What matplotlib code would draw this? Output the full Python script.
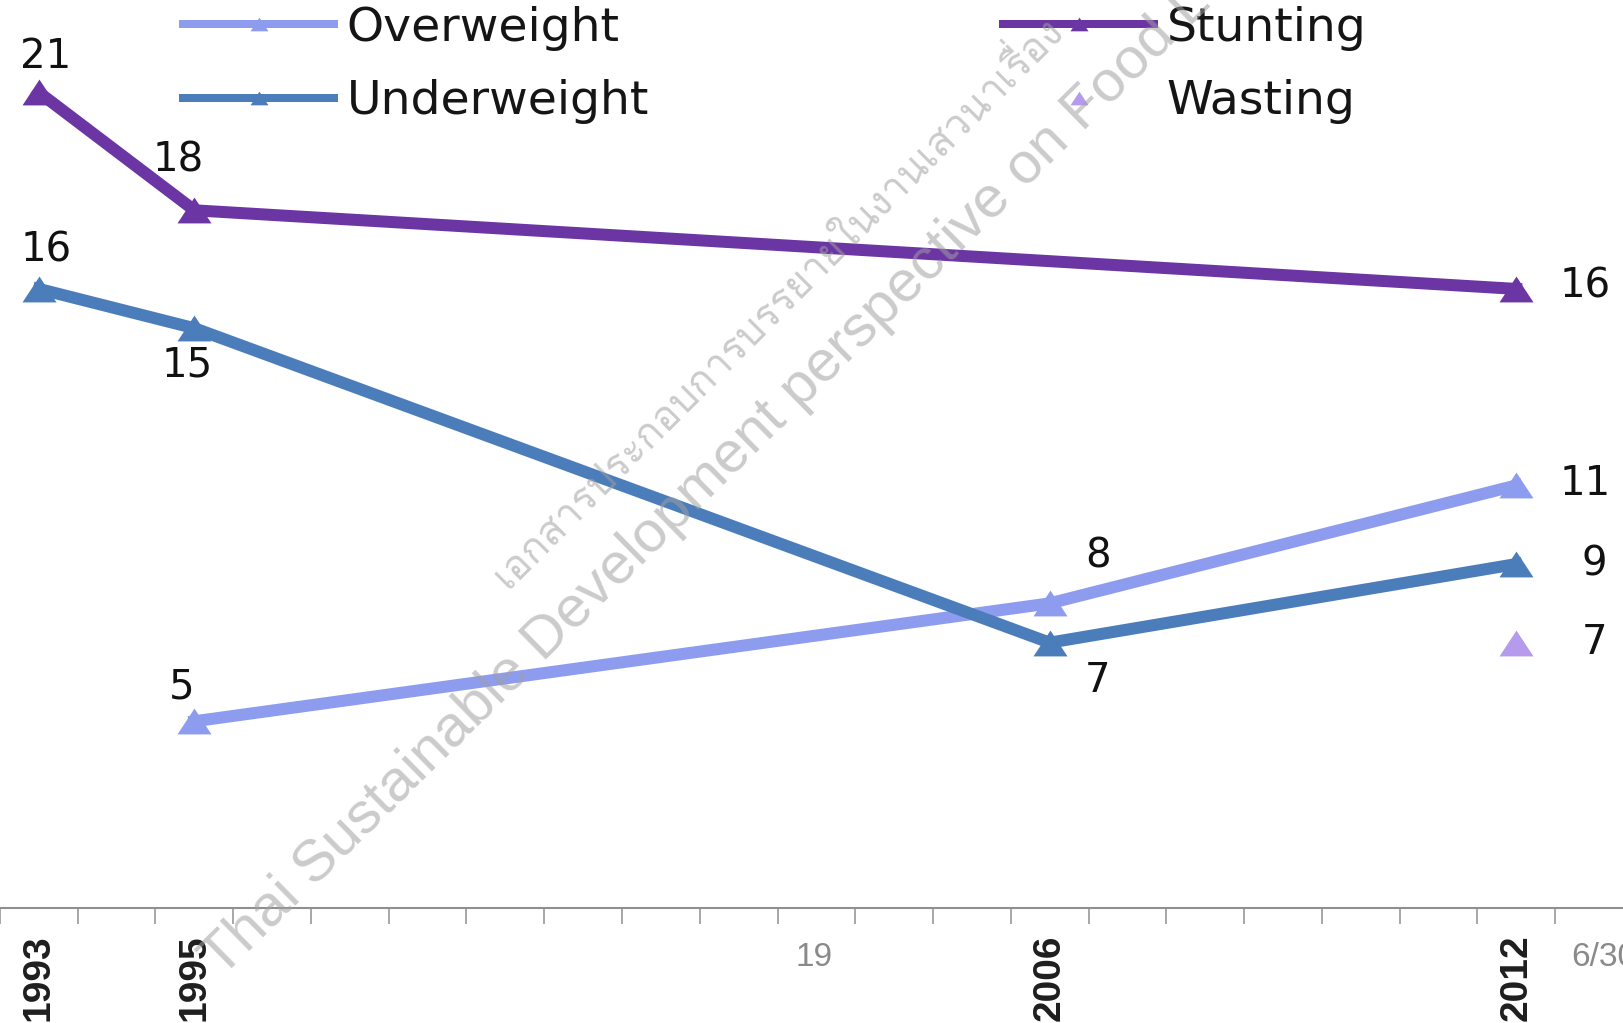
import matplotlib
matplotlib.use("Agg")
import matplotlib.pyplot as plt
from matplotlib.lines import Line2D
from matplotlib import font_manager
from matplotlib.ft2font import FT2Font

# ---- data -------------------------------------------------------------
years_stunting = [1993, 1995, 2012]
stunting = [21, 18, 16]

years_underweight = [1993, 1995, 2006, 2012]
underweight = [16, 15, 7, 9]

years_overweight = [1995, 2006, 2012]
overweight = [5, 8, 11]

years_wasting = [2012]
wasting = [7]

tick_years = [1993, 1995, 2006, 2012]
first_year, last_year = 1993, 2012

# ---- styling ----------------------------------------------------------
C_STUNT = "#6B35A3"
C_UNDER = "#4A7DBA"
C_OVER = "#8D9CEE"
C_WAST = "#B69BEC"

W, H, DPI = 1623, 1023, 100
fig = plt.figure(figsize=(W / DPI, H / DPI), dpi=DPI)
fig.patch.set_facecolor("white")

axis_y_px = 908          # pixel row of the category axis line
ax = fig.add_axes([0, 1 - axis_y_px / H, 1, axis_y_px / H])
ax.set_facecolor("none")

cat_px = 77.75           # width of one year on the category axis
ax.set_xlim(first_year - 0.5, first_year - 0.5 + W / cat_px)
ax.set_ylim(0.25, 23.35)

# wide, flat triangle marker
tri = [(-1, -0.76), (1, -0.76), (0, 0.76), (-1, -0.76)]
ms = 34 / (DPI / 72)
lw = 12 / (DPI / 72)

ax.plot(years_overweight, overweight, color=C_OVER, lw=lw, marker=tri,
        ms=ms, mew=0, solid_joinstyle="miter", zorder=3)
ax.plot(years_underweight, underweight, color=C_UNDER, lw=lw, marker=tri,
        ms=ms, mew=0, solid_joinstyle="miter", zorder=4)
ax.plot(years_stunting, stunting, color=C_STUNT, lw=lw, marker=tri,
        ms=ms, mew=0, solid_joinstyle="miter", zorder=5)
ax.plot(years_wasting, wasting, ls="none", color=C_WAST, marker=tri,
        ms=ms, mew=0, zorder=5)

# ---- value labels -----------------------------------------------------
label_font = dict(family="DejaVu Sans", fontsize=29, color="#111111")


def put_labels(xs, ys, offsets):
    for x, y, (dx, dy) in zip(xs, ys, offsets):
        ax.annotate(f"{y:g}", (x, y), xytext=(dx, dy),
                    textcoords="offset pixels", ha="center", va="center",
                    zorder=6, **label_font)


put_labels(years_stunting, stunting, [(7, 35), (-16, 50), (69, 2)])
put_labels(years_underweight, underweight,
           [(7, 38), (-7, -37), (48, -38), (78, 0)])
put_labels(years_overweight, overweight, [(-13, 34), (48, 47), (69, 1)])
put_labels(years_wasting, wasting, [(78, 0)])

# ---- category axis ----------------------------------------------------
for side in ("left", "right", "top"):
    ax.spines[side].set_visible(False)
ax.spines["bottom"].set_color("#8f8f8f")
ax.spines["bottom"].set_linewidth(1.5)

boundaries = [y - 0.5 for y in range(first_year, last_year + 2)]
ax.set_xticks(boundaries)
ax.set_xticklabels([])
ax.tick_params(axis="x", which="major", direction="out", length=11.5,
               width=1.1, color="#8f8f8f")
ax.set_xticks(tick_years, minor=True)
ax.set_xticklabels([str(y) for y in tick_years], minor=True, rotation=90,
                   family="Liberation Sans", fontweight="bold", fontsize=28,
                   color="#1e1e1e", va="top", ha="center")
ax.tick_params(axis="x", which="minor", length=0, pad=19)
ax.set_yticks([])

# ---- legend -----------------------------------------------------------
lg_ms = 18 / (DPI / 72)
lg_lw = 8 / (DPI / 72)
h_over = Line2D([], [], color=C_OVER, lw=lg_lw, marker=tri, ms=lg_ms, mew=0)
h_under = Line2D([], [], color=C_UNDER, lw=lg_lw, marker=tri, ms=lg_ms, mew=0)
h_stunt = Line2D([], [], color=C_STUNT, lw=lg_lw, marker=tri, ms=lg_ms, mew=0)
h_wast = Line2D([], [], color=C_WAST, ls="none", marker=tri, ms=lg_ms, mew=0)

legend_kw = dict(frameon=False, loc="upper left", borderpad=0,
                 borderaxespad=0, handlelength=3.2, handletextpad=0.27,
                 labelspacing=0.6, prop=dict(family="DejaVu Sans", size=34),
                 labelcolor="#151515", bbox_transform=fig.transFigure)
leg1 = fig.legend([h_over, h_under], ["Overweight", "Underweight"],
                  bbox_to_anchor=(183 / W, 1 - 6 / H), **legend_kw)
leg2 = fig.legend([h_stunt, h_wast], ["Stunting", "Wasting"],
                  bbox_to_anchor=(1003 / W, 1 - 6 / H), **legend_kw)

# ---- page footer texts ------------------------------------------------
footer = dict(family=["Liberation Sans Narrow", "Liberation Sans"],
              fontsize=24, color="#8a8a8a", va="center")
fig.text(814 / W, 1 - 958 / H, "19", ha="center", **footer)
fig.text(1571 / W, 1 - 958 / H, "6/30", ha="left", **footer)

# ---- watermark --------------------------------------------------------
fig.text(222 / W, 1 - 978 / H,
         "Thai Sustainable Development perspective on Food Loss",
         rotation=44.5, rotation_mode="anchor", ha="left", va="baseline",
         family="Liberation Sans", fontsize=42, color="#a0a0a0", alpha=0.55,
         zorder=10)


def font_for(char):
    for entry in font_manager.fontManager.ttflist:
        try:
            if ord(char) in FT2Font(entry.fname).get_charmap():
                return entry.name
        except Exception:
            continue
    return None


thai_family = font_for("\u0e01")
if thai_family:
    fig.text(508 / W, 1 - 590 / H,
             "เอกสารประกอบการบรรยายในงานเสวนาเรื่อง",
             rotation=45, rotation_mode="anchor", ha="left",
             va="baseline", family=thai_family, fontsize=29,
             color="#a0a0a0", alpha=0.55, zorder=10)

fig.savefig("out.png", dpi=DPI)
